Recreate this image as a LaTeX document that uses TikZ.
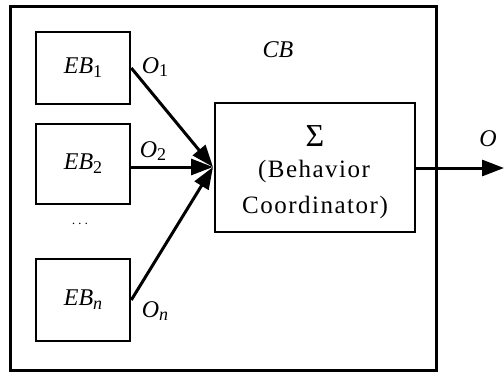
\documentclass[tikz,border=0pt]{standalone}
\usepackage{fontspec}
\setmainfont{Liberation Serif}
\usetikzlibrary{arrows.meta}
\newcommand{\lowsub}[1]{\raisebox{-0.35ex}{\fontsize{18}{20}\selectfont #1}}
\begin{document}
\begin{tikzpicture}[x=1pt,y=-1pt,
  box/.style={draw, line width=2.6pt, inner sep=0pt},
  conn/.style={line width=3pt, -{Triangle[length=22pt,width=16pt]}},
  lbl/.style={font=\fontsize{24}{28}\selectfont, inner sep=0pt},
  wide/.style={font=\fontsize{25}{28}\selectfont\addfontfeature{LetterSpace=6}, inner sep=0pt}]
\useasboundingbox (0,0) rectangle (504,378);
% enclosing composite behaviour
\node[box, line width=3pt, minimum width=426pt, minimum height=364pt] (cb) at (223,188) {};
\node[lbl] (cblabel) at (278,50) {\textit{CB}};
% elementary behaviours
\node[box, minimum width=94pt, minimum height=72pt, lbl] (eb1) at (83,68) {\textit{EB}\lowsub{1}};
\node[box, minimum width=94pt, minimum height=80pt, lbl] (eb2) at (83,164) {\textit{EB}\lowsub{2}};
\node[lbl, font=\fontsize{14}{16}\selectfont] (dots) at (80,224) {$\cdots$};
\node[box, minimum width=94pt, minimum height=82pt, lbl] (ebn) at (83,300) {\textit{EB}\lowsub{\textit{n}}};
% coordinator
\node[box, minimum width=200pt, minimum height=129pt] (bc) at (315,167.5) {};
\node[lbl, font=\fontsize{32}{34}\selectfont] (sig) at (315,136) {Σ};
\node[wide] (bl1) at (314,171) {(Behavior};
\node[wide] (bl2) at (315,207) {Coordinator)};
% connectors
\coordinate (m) at (213,167);
\coordinate (out) at (504,168);
\draw[conn] (eb1.east) -- (m);
\draw[conn] (eb2.east |- m) -- (m);
\draw[conn] (ebn.east) -- (m);
\draw[conn] (bc.east |- out) -- (out);
% output labels
\node[lbl] (o1) at (155,67) {\textit{O}\lowsub{1}};
\node[lbl] (o2) at (153,151) {\textit{O}\lowsub{2}};
\node[lbl] (on) at (155,311) {\textit{O}\lowsub{\textit{n}}};
\node[lbl] (o) at (488,139) {\textit{O}};
\end{tikzpicture}
\end{document}
